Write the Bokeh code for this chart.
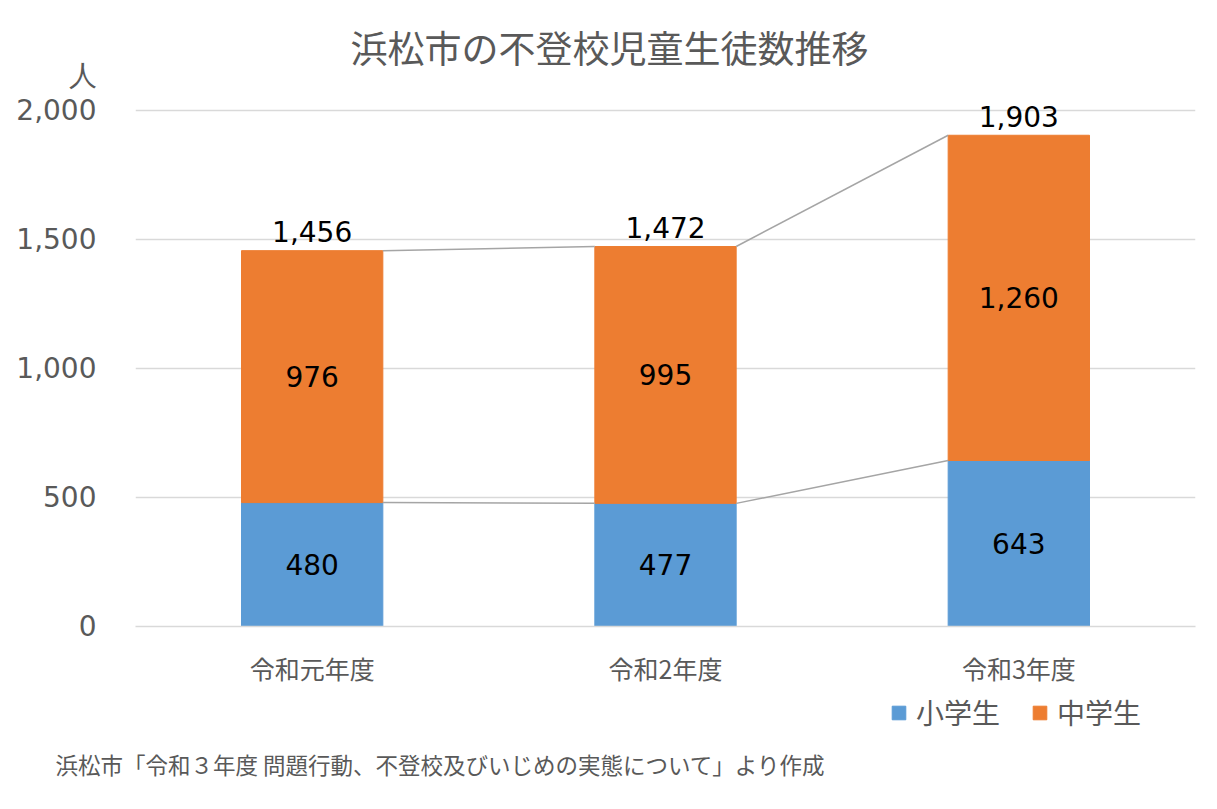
from bokeh.plotting import figure
from bokeh.layouts import column
from bokeh.models import (Range1d, FixedTicker, Title, Legend, LegendItem, Label,
                          ColumnDataSource, NumeralTickFormatter)
from bokeh.core.properties import value
from bokeh.embed import file_html
from bokeh.resources import INLINE

# ---- data ----
categories = ["令和元年度", "令和2年度", "令和3年度"]
elementary = [480, 477, 643]      # 小学生
junior = [976, 995, 1260]         # 中学生
series_names = ["小学生", "中学生"]
y_ticks = [0, 500, 1000, 1500, 2000]
title_text = "浜松市の不登校児童生徒数推移"
unit_text = "人"
source_text = "浜松市「令和３年度 問題行動、不登校及びいじめの実態について」より作成"

FONT = "Noto Sans CJK JP"
NUMFONT = "DejaVu Sans"
BLUE = "#5B9BD5"
ORANGE = "#ED7D31"
GRAY = "#595959"
BAR_W = 0.4
W = 1217
H_TOP = 688
H_BOT = 809 - H_TOP
FRAME_TOP = 25          # px from page top
FRAME_BOTTOM = 628      # px from page top (value 0)
PX_PER_UNIT = 518 / 2000
Y_END = (FRAME_BOTTOM - FRAME_TOP) / PX_PER_UNIT
UNIT_POS = (FRAME_BOTTOM - 75) / PX_PER_UNIT   # where the "人" tick label sits
Q_FRAME_H = 743 - H_TOP

n = len(categories)
xs = [i + 0.5 for i in range(n)]
totals = [a + b for a, b in zip(elementary, junior)]

p = figure(width=W, height=H_TOP, output_backend="svg", toolbar_location=None,
           x_range=Range1d(0, n), y_range=Range1d(0, Y_END),
           min_border_left=135, min_border_right=22, min_border_top=FRAME_TOP,
           min_border_bottom=H_TOP - FRAME_BOTTOM)
p.outline_line_color = None
p.background_fill_color = "white"
p.border_fill_color = "white"

src = ColumnDataSource(dict(x=xs, e=elementary, j=junior, t=totals,
                            e_mid=[v / 2 for v in elementary],
                            j_mid=[a + b / 2 for a, b in zip(elementary, junior)],
                            e_lab=[f"{v:,}" for v in elementary],
                            j_lab=[f"{v:,}" for v in junior],
                            t_lab=[f"{v:,}" for v in totals]))

p.vbar(x="x", bottom=0, top="e", width=BAR_W, color=BLUE, source=src)
p.vbar(x="x", bottom="e", top="t", width=BAR_W, color=ORANGE, source=src)

# series lines
for level in (elementary, totals):
    for i in range(n - 1):
        p.line([xs[i] + BAR_W / 2, xs[i + 1] - BAR_W / 2], [level[i], level[i + 1]],
               line_color="#A5A5A5", line_width=1.5)

# data labels
lab_kw = dict(source=src, text_align="center", text_baseline="middle",
              text_font=value(NUMFONT), text_font_size="28px", text_color="black")
p.text(x="x", y="e_mid", text="e_lab", **lab_kw)
p.text(x="x", y="j_mid", text="j_lab", **lab_kw)
p.text(x="x", y="t", text="t_lab", y_offset=-19, **lab_kw)

# axes
p.xgrid.visible = False
p.ygrid.ticker = FixedTicker(ticks=y_ticks)
p.ygrid.grid_line_color = "#D9D9D9"
p.ygrid.grid_line_width = 1.5
p.yaxis.ticker = FixedTicker(ticks=y_ticks + [UNIT_POS])
p.yaxis.formatter = NumeralTickFormatter(format="0,0")
p.yaxis.major_label_overrides = {UNIT_POS: unit_text}
p.yaxis.axis_line_color = None
p.yaxis.major_tick_line_color = None
p.yaxis.minor_tick_line_color = None
p.yaxis.major_label_text_font = NUMFONT
p.yaxis.major_label_text_font_size = "28px"
p.yaxis.major_label_text_color = GRAY
p.yaxis.major_label_standoff = 33

p.xaxis.ticker = FixedTicker(ticks=xs)
p.xaxis.major_label_overrides = {x: c for x, c in zip(xs, categories)}
p.xaxis.axis_line_color = "#D9D9D9"
p.xaxis.axis_line_width = 1.5
p.xaxis.major_tick_line_color = None
p.xaxis.minor_tick_line_color = None
p.xaxis.major_label_text_font = FONT
p.xaxis.major_label_text_font_size = "25px"
p.xaxis.major_label_text_color = GRAY
p.xaxis.major_label_standoff = 17

# title inside the (extended) frame
p.add_layout(Label(x=609 - 135, y=FRAME_BOTTOM - 48, x_units="screen", y_units="screen",
                   text=title_text, text_align="center", text_baseline="middle",
                   text_font=FONT, text_font_size="37px", text_color=GRAY))

# ---- bottom strip: legend and source ----
q = figure(width=W, height=H_BOT, output_backend="svg", toolbar_location=None,
           x_range=Range1d(135, 1195), y_range=Range1d(0, Q_FRAME_H),
           min_border_left=135, min_border_right=22,
           min_border_top=0, min_border_bottom=H_BOT - Q_FRAME_H)
q.axis.visible = False
q.grid.visible = False
q.outline_line_color = None
q.background_fill_color = "white"
q.border_fill_color = "white"

# legend proxies (hidden; only their swatches appear in the legend)
le = q.vbar(x="x", top="e", width=BAR_W, color=BLUE, source=src, visible=False)
lj = q.vbar(x="x", bottom="e", top="t", width=BAR_W, color=ORANGE, source=src,
            visible=False)

legend = Legend(items=[LegendItem(label=series_names[0], renderers=[le]),
                       LegendItem(label=series_names[1], renderers=[lj])],
                location=(890 - 135, 11), orientation="horizontal",
                label_text_font=FONT, label_text_font_size="28px",
                label_text_color=GRAY, glyph_width=17, glyph_height=17,
                spacing=31, label_standoff=9, border_line_color=None,
                background_fill_alpha=0, padding=0, margin=0,
                inactive_fill_alpha=0)
q.add_layout(legend, "center")
q.add_layout(Title(text=source_text, align="left", offset=-80, text_font=FONT,
                   text_font_size="22.5px", text_font_style="normal",
                   text_color=GRAY, standoff=4), "below")

layout = column(p, q, spacing=0)
open("out.html", "w").write(file_html(layout, INLINE))
